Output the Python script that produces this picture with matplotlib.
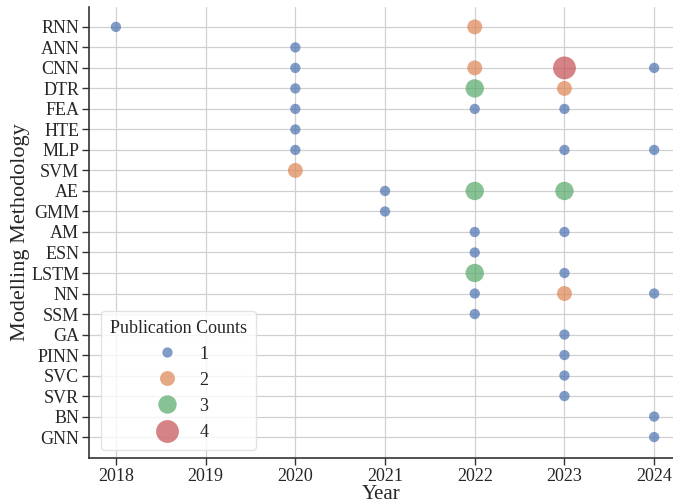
import matplotlib
matplotlib.use("Agg")
import matplotlib.pyplot as plt
import seaborn as sns
import pandas as pd

methods = ["RNN", "ANN", "CNN", "DTR", "FEA", "HTE", "MLP", "SVM", "AE", "GMM", "AM",
           "ESN", "LSTM", "NN", "SSM", "GA", "PINN", "SVC", "SVR", "BN", "GNN"]
years = [2018, 2019, 2020, 2021, 2022, 2023, 2024]

rec_method = ["RNN", "RNN", "ANN", "CNN", "CNN", "CNN", "CNN", "DTR", "DTR", "DTR",
              "FEA", "FEA", "FEA", "HTE", "MLP", "MLP", "MLP", "SVM", "AE", "AE", "AE",
              "GMM", "AM", "AM", "ESN", "LSTM", "LSTM", "NN", "NN", "NN", "SSM",
              "GA", "PINN", "SVC", "SVR", "BN", "GNN"]
rec_year = [2018, 2022, 2020, 2020, 2022, 2023, 2024, 2020, 2022, 2023,
            2020, 2022, 2023, 2020, 2020, 2023, 2024, 2020, 2021, 2022, 2023,
            2021, 2022, 2023, 2022, 2022, 2023, 2022, 2023, 2024, 2022,
            2023, 2023, 2023, 2023, 2024, 2024]
rec_count = [1, 2, 1, 1, 2, 4, 1, 1, 3, 2,
             1, 1, 1, 1, 1, 1, 1, 2, 1, 3, 3,
             1, 1, 1, 1, 3, 1, 1, 2, 1, 1,
             1, 1, 1, 1, 1, 1]

df = pd.DataFrame({"Year": rec_year, "Method": rec_method, "Publication Counts": rec_count})

sns.set_theme(style="whitegrid")
sns.set_style("ticks", {"axes.grid": True})
plt.rcParams["font.family"] = ["Liberation Serif", "DejaVu Serif"]

fig = plt.figure(figsize=(6.73, 5.04), dpi=100)
ax = fig.add_axes([89/673, 46/504, (673-89)/673, (458-7)/504])

pal = sns.color_palette("deep")
palette = {1: pal[0], 2: pal[1], 3: pal[2], 4: pal[3]}
sizes = {1: 55, 2: 115, 3: 175, 4: 270}

sns.scatterplot(data=df, x="Year", y="Method", hue="Publication Counts",
                size="Publication Counts", palette=palette, sizes=sizes,
                alpha=0.7, linewidth=0, ax=ax, legend="full")

ax.set_yticks(range(len(methods)))
ax.set_yticklabels(methods, fontsize=13)
ax.set_ylim(len(methods) + 0.02, -0.97)
ax.set_xticks(years)
ax.set_xticklabels([str(y) for y in years], fontsize=13)
ax.set_xlim(2017.7, 2024.21)
ax.set_xlabel("Year", fontsize=15, labelpad=0)
ax.set_ylabel("Modelling Methodology", fontsize=16, labelpad=1)
ax.grid(True, color="#d0d0d0", linewidth=0.9)
ax.tick_params(axis="both", length=5, width=1, color="#333333", pad=2)
for s in ["top", "right"]:
    ax.spines[s].set_visible(False)
for s in ["left", "bottom"]:
    ax.spines[s].set_color("#333333")
    ax.spines[s].set_linewidth(1.2)

leg = ax.legend(title="Publication Counts", loc="lower left", fontsize=13,
                title_fontsize=13, frameon=True, borderpad=0.5, labelspacing=0.5,
                bbox_to_anchor=(0.005, -0.002))
leg.get_frame().set_edgecolor("#dddddd")

fig.savefig("out.png", dpi=100)
